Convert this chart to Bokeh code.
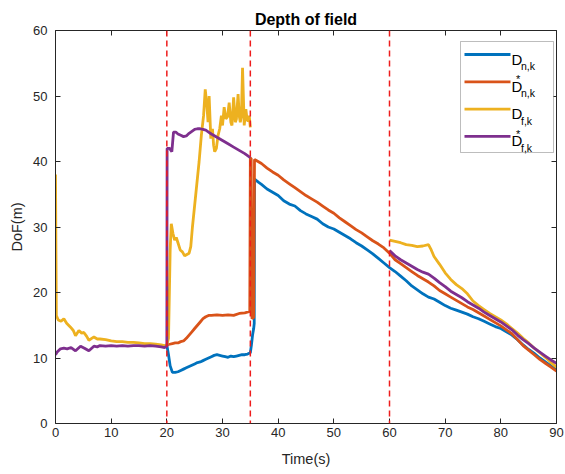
from bokeh.plotting import figure
from bokeh.models import Span, Label, BoxAnnotation, LinearAxis, Range1d, FixedTicker
from bokeh.embed import file_html
from bokeh.resources import INLINE

nan = float("nan")

# ---------------- data ----------------
# D_n,k  (blue)
time_n = [20.0, 20.3, 20.6, 21.0, 21.5, 22.0, 22.5, 23.0, 23.5, 24.0, 24.5, 25.0,
          25.5, 26.0, 26.5, 27.0, 27.5, 28.0, 28.5, 29.0, 29.5, 30.0, 30.5, 31.0,
          31.5, 32.0, 32.5, 33.0, 33.5, 34.0, 34.5, 35.0, 35.2, 35.4, 35.6, 35.7,
          35.75, 36.5, 37.0] + list(range(38, 91))
dof_n = [12.0, 10.5, 8.8, 7.8, 7.8, 7.9, 8.1, 8.3, 8.5, 8.7, 8.9, 9.1,
         9.3, 9.4, 9.6, 9.8, 10.0, 10.2, 10.4, 10.5, 10.4, 10.3, 10.2, 10.1,
         10.3, 10.2, 10.3, 10.4, 10.5, 10.5, 10.6, 10.8, 12.0, 13.5, 14.5, 15.3,
         37.3, 36.8, 36.5,
         35.8, 35.3, 34.8, 34.0, 33.5, 33.2, 32.5, 32.0, 31.6, 31.2, 30.5, 30.0,
         29.7, 29.2, 28.7, 28.2, 27.6, 27.1, 26.5, 25.9, 25.2, 24.5, 23.8,
         23.2, 22.5, 21.8, 21.0, 20.4, 19.8, 19.3, 19.0, 18.5, 18.0, 17.6, 17.3,
         17.0, 16.7, 16.3, 16.0, 15.6, 15.2, 14.8, 14.5, 14.0, 13.5, 12.8, 12.0,
         11.3, 10.7, 10.0, 9.4, 8.8, 8.2]

# D*_n,k  (orange)
time_ns = [20.0, 20.5, 21.0, 21.5, 22.0, 22.5, 23.0, 23.5, 24.0, 24.5, 25.0, 25.5,
           26.0, 26.5, 27.0, 27.5, 28.0, 29.0, 30.0, 31.0, 32.0, 33.0, 34.0, 34.9,
           35.0, 35.15, 35.3, 35.6, 35.75, 36.0] + list(range(37, 91))
dof_ns = [12.0, 12.1, 12.2, 12.3, 12.3, 12.5, 12.6, 13.0, 13.5, 14.0, 14.5, 15.0,
          15.5, 16.0, 16.3, 16.5, 16.5, 16.6, 16.5, 16.6, 16.5, 16.8, 16.9, 17.1,
          40.5, 40.5, 16.0, 16.2, 40.3, 40.2,
          39.7, 39.0, 38.4, 37.9, 37.2, 36.6, 36.0, 35.4, 34.8, 34.3, 33.8, 33.2,
          32.6, 32.1, 31.4, 30.8, 30.2, 29.6, 29.1, 28.5, 27.9, 27.4, 26.8, 26.0,
          25.0, 24.4, 23.8, 23.2, 22.6, 22.1, 21.6, 21.0, 20.3, 19.8, 19.3, 18.8,
          18.3, 17.8, 17.4, 16.9, 16.4, 15.9, 15.4, 14.9, 14.3, 13.7, 12.8, 11.9,
          11.2, 10.5, 9.8, 9.2, 8.6, 8.0]

# D_f,k  (yellow)
time_f = [0.0, 0.15, 0.5, 1.0, 1.5, 2.0, 2.7, 3.2, 3.6, 4.2, 4.7, 5.1, 5.6, 6.0,
          6.5, 6.9, 7.5, 8.0, 9.0, 10.0, 11.0, 12.0, 13.0, 14.0, 15.0, 16.0, 17.0,
          18.0, 19.0, 19.6, 20.0, 20.3, 20.6, 20.8, 21.1, 21.4, 21.7, 22.0, 22.4,
          22.8, 23.2, 23.6, 24.0, 24.3, 24.6, 25.2, 25.8, 26.2, 26.6, 26.9, 27.2,
          27.4, 27.6, 27.9, 28.2, 28.4, 28.6, 28.9, 29.2, 29.5, 29.8, 30.0, 30.3,
          30.6, 30.9, 31.2, 31.5, 31.7, 32.0, 32.3, 32.5, 32.8, 33.0, 33.2, 33.4,
          33.6, 33.9, 34.2, 34.4, 34.6, 34.8, 35.0, nan,
          60, 61, 62, 63, 64, 65, 66, 67, 67.5] + list(range(68, 91))
dof_f = [38.0, 16.5, 15.8, 15.6, 16.0, 15.3, 14.7, 14.2, 13.4, 14.2, 13.8, 13.9, 13.3, 12.7,
         13.0, 13.2, 12.9, 12.9, 12.8, 12.6, 12.5, 12.5, 12.4, 12.4, 12.3, 12.2, 12.2,
         12.1, 12.0, 11.9, 12.0, 13.0, 26.5, 30.5, 29.0, 28.0, 28.4, 27.6, 26.5,
         26.2, 25.6, 25.8, 26.0, 27.0, 30.0, 35.0, 40.0, 44.0, 47.0, 51.0, 48.5,
         46.0, 50.0, 43.5, 45.0, 42.5, 41.5, 42.0, 44.0, 45.0, 47.0, 45.5, 48.3,
         46.5, 46.8, 49.0, 46.0, 45.5, 49.8, 46.0, 46.5, 50.3, 47.0, 46.0, 47.0,
         54.3, 45.5, 48.0, 46.5, 46.1, 47.0, 45.2, nan,
         28.0, 27.8, 27.6, 27.3, 27.2, 27.0, 27.1, 27.3, 26.5,
         25.5, 24.3, 23.0, 22.0, 21.2, 20.6, 19.8, 18.7, 18.0, 17.4, 16.8, 16.3,
         15.8, 15.2, 14.5, 13.8, 13.0, 12.3, 11.5, 10.8, 10.1, 9.3, 8.6]

# D*_f,k  (purple)
time_fs = [0.0, 0.3, 0.9, 1.5, 2.1, 2.8, 3.6, 4.5, 5.2, 6.0, 6.9, 7.5, 8.0, 9.0,
           10.0, 11.0, 12.0, 13.0, 14.0, 15.0, 16.0, 17.0, 18.0, 19.0, 19.6, 20.0,
           20.05, 20.5, 20.9, 21.2, 21.6, 22.0, 22.5, 23.0, 23.5, 24.0, 24.5, 25.0,
           25.5, 26.0, 26.5, 27.0, 27.5, 28.0, 29.0, 30.0, 31.0, 32.0, 33.0, 34.0,
           35.0, nan] + list(range(60, 91))
dof_fs = [10.5, 10.9, 11.4, 11.5, 11.4, 11.6, 11.1, 11.8, 11.5, 11.1, 11.8, 11.7, 11.9, 11.8,
          11.9, 11.8, 11.9, 11.8, 11.9, 11.9, 11.8, 11.9, 11.8, 11.7, 11.6, 11.8,
          42.0, 42.0, 41.5, 44.5, 44.5, 44.2, 44.0, 43.8, 43.9, 44.3, 44.6, 44.9,
          45.0, 45.0, 44.9, 44.8, 44.5, 44.2, 43.7, 43.2, 42.7, 42.2, 41.7, 41.2,
          40.6, nan,
          26.4, 25.6, 25.0, 24.5, 24.0, 23.5, 23.1, 22.8, 22.2, 21.5, 20.9, 20.2,
          19.7, 19.2, 18.6, 18.1, 17.6, 17.0, 16.5, 16.0, 15.5, 14.9, 14.3, 13.5,
          12.8, 12.2, 11.5, 10.9, 10.3, 9.7, 9.2]

event_times = [20, 35, 60]
x_ticks = [0, 10, 20, 30, 40, 50, 60, 70, 80, 90]
y_ticks = [0, 10, 20, 30, 40, 50, 60]

series = [
    (time_n, dof_n, "#0072BD", "n,k", False),
    (time_ns, dof_ns, "#D95319", "n,k", True),
    (time_f, dof_f, "#EDB120", "f,k", False),
    (time_fs, dof_fs, "#7E2F8E", "f,k", True),
]
for t, v, *_ in series:
    assert len(t) == len(v), (len(t), len(v))

# ---------------- figure ----------------
FONT = "Liberation Sans"
AX = "#262626"
W, H = 564, 472
ML, MR, MT, MB = 55, 8, 30, 49

p = figure(width=W, height=H, x_range=Range1d(0, 90), y_range=Range1d(0, 60),
           output_backend="svg", toolbar_location=None, title="Depth of field",
           min_border_left=ML, min_border_right=MR, min_border_top=MT,
           min_border_bottom=MB)
p.outline_line_color = None
p.grid.visible = False
p.background_fill_color = "white"
p.border_fill_color = "white"

p.title.text_font = FONT
p.title.text_font_size = "16px"
p.title.text_font_style = "bold"
p.title.text_color = "#000000"
p.title.align = "center"
p.title.standoff = 5
p.title.offset = 0

def style_axis(ax, ticks, show_labels=True):
    ax.ticker = FixedTicker(ticks=ticks)
    ax.minor_tick_line_color = None
    ax.major_tick_in = 5
    ax.major_tick_out = 0
    ax.major_tick_line_color = AX
    ax.axis_line_color = AX
    ax.axis_line_width = 1
    ax.major_label_text_font = FONT
    if show_labels:
        ax.major_label_text_font_size = "13px"
        ax.major_label_text_color = AX
    else:
        ax.major_label_text_font_size = "1px"
        ax.major_label_text_color = None
        ax.major_label_standoff = 0

style_axis(p.xaxis[0], x_ticks)
style_axis(p.yaxis[0], y_ticks)
p.xaxis[0].major_label_standoff = 4
p.yaxis[0].major_label_standoff = 8
for ax, lab, st in ((p.xaxis[0], "Time(s)", 11), (p.yaxis[0], "DoF(m)", 5)):
    ax.axis_label = lab
    ax.axis_label_text_font = FONT
    ax.axis_label_text_font_size = "14.5px"
    ax.axis_label_text_font_style = "normal"
    ax.axis_label_text_color = AX
    ax.axis_label_standoff = st

top_ax = LinearAxis()
style_axis(top_ax, x_ticks, show_labels=False)
p.add_layout(top_ax, "above")
right_ax = LinearAxis()
style_axis(right_ax, y_ticks, show_labels=False)
p.add_layout(right_ax, "right")

for t, v, color, _, _ in series:
    p.line(t, v, line_color=color, line_width=2.8)

for et in event_times:
    p.add_layout(Span(location=et, dimension="height", line_color="#EE1C1C",
                      line_width=1.5, line_dash="6 4"))

# ---------------- legend (annotations, screen units relative to the frame) ----------------
fw = W - ML - MR
fh = H - MT - MB
lg_right = fw - 3
lg_left = lg_right - 93
lg_top = fh - 11
lg_bottom = lg_top - 111
p.add_layout(BoxAnnotation(left=lg_left, right=lg_right, top=lg_top, bottom=lg_bottom,
                           left_units="screen", right_units="screen",
                           top_units="screen", bottom_units="screen",
                           fill_color="white", fill_alpha=1.0,
                           line_color=AX, line_width=1, level="annotation"))
for i, (_, _, color, sub, star) in enumerate(series):
    yc = lg_top - 13 - 27.3 * i
    p.add_layout(BoxAnnotation(left=lg_left + 4, right=lg_left + 50,
                               top=yc + 1.4, bottom=yc - 1.4,
                               left_units="screen", right_units="screen",
                               top_units="screen", bottom_units="screen",
                               fill_color=color, fill_alpha=1.0, line_color=None))
    p.add_layout(Label(x=lg_left + 51, y=yc - 4.5, x_units="screen", y_units="screen",
                       text="D", text_font=FONT, text_font_size="15px",
                       text_color="#000000", text_baseline="alphabetic"))
    p.add_layout(Label(x=lg_left + 60.5, y=yc - 11.5, x_units="screen", y_units="screen",
                       text=sub, text_font=FONT, text_font_size="10.5px",
                       text_color="#000000", text_baseline="alphabetic"))
    if star:
        p.add_layout(Label(x=lg_left + 55.5, y=yc + 2.5, x_units="screen", y_units="screen",
                           text="*", text_font=FONT, text_font_size="11px",
                           text_color="#000000", text_baseline="alphabetic"))

open("out.html", "w").write(file_html(p, INLINE))
